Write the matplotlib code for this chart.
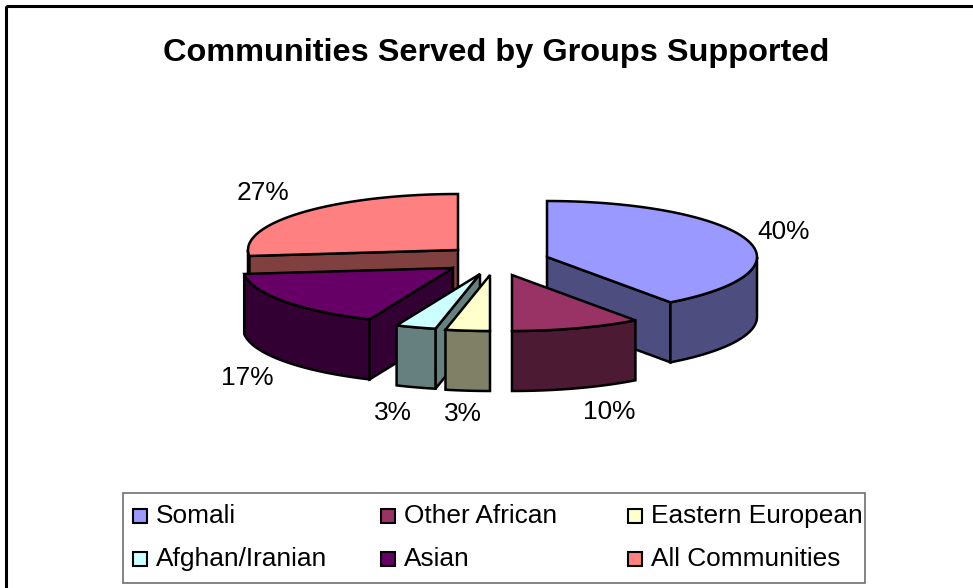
#!/usr/bin/env python3
"""Exploded 3-D style pie: communities served by groups supported."""
import numpy as np
import matplotlib
matplotlib.use("Agg")
import matplotlib.pyplot as plt
from matplotlib.patches import Polygon, Rectangle

plt.rcParams["font.family"] = ["Liberation Sans", "DejaVu Sans"]

categories = ["Somali", "Other African", "Eastern European",
              "Afghan/Iranian", "Asian", "All Communities"]
shares = [40.0, 10.0, 3.4, 3.1, 16.8, 26.7]

top_colors = ["#9999FF", "#993366", "#FFFFCC", "#CCFFFF", "#660066", "#FF8080"]
side_colors = ["#4D4D80", "#4D1A33", "#808066", "#668080", "#330033", "#804040"]

# layout, all in image pixels
W, H = 973, 588
RX, RY, DEPTH = 210, 56, 60
apex = [(547, 257), (512, 275), (490, 275), (480, 274), (453, 268), (458, 250)]
label_pos = [(784, 232), (609, 412), (463, 414), (393, 413), (247, 378), (263, 193)]
draw_order = [5, 0, 4, 3, 2, 1]
legend_box = (123, 493, 742, 90)
legend_swatch = [(133, 509), (381, 509), (628, 509), (133, 552), (381, 552), (628, 552)]

fig = plt.figure(figsize=(W / 100, H / 100), dpi=100)
ax = fig.add_axes([0, 0, 1, 1])
ax.set_xlim(0, W)
ax.set_ylim(H, 0)
ax.axis("off")

ax.add_patch(Rectangle((6, 6), W + 20, H + 20, fill=False, ec="black", lw=2.2))
ax.text(496, 53, "Communities Served by Groups Supported", ha="center", va="center",
        fontsize=23.4, fontweight="bold")


def rim(cx, cy, deg):
    t = np.radians(deg)
    return np.column_stack([cx + RX * np.sin(t), cy - RY * np.cos(t)])


def face(points, color, z):
    ax.add_patch(Polygon(points, closed=True, fc=color, ec="black", lw=1.8,
                         joinstyle="miter", zorder=z))


edges = np.concatenate([[0], np.cumsum(shares)]) * 360 / sum(shares)

for z, i in enumerate(draw_order):
    cx, cy = apex[i]
    start, end = edges[i], edges[i + 1]
    down = np.array([0, DEPTH])
    # side faces first, the top goes over them
    if 180 < start < 360:
        p = rim(cx, cy, [start])[0]
        face([(cx, cy), p, p + down, (cx, cy + DEPTH)], side_colors[i], z)
    if 0 < end < 180:
        p = rim(cx, cy, [end])[0]
        face([(cx, cy), p, p + down, (cx, cy + DEPTH)], side_colors[i], z)
    a0, a1 = max(start, 90), min(end, 270)
    if a1 > a0:
        arc = rim(cx, cy, np.linspace(a0, a1, 80))
        face(np.vstack([arc, arc[::-1] + down]), side_colors[i], z)
    arc = rim(cx, cy, np.linspace(start, end, 120))
    face(np.vstack([[(cx, cy)], arc]), top_colors[i], z)

for (x, y), v in zip(label_pos, shares):
    ax.text(x, y, f"{v:.0f}%", ha="center", va="center", fontsize=18.9, zorder=20)

x0, y0, w, h = legend_box
ax.add_patch(Rectangle((x0, y0), w, h, fc="white", ec="#707070", lw=1.2))
for (x, y), name, c in zip(legend_swatch, categories, top_colors):
    ax.add_patch(Rectangle((x, y), 14, 14, fc=c, ec="black", lw=1.5))
    ax.text(x + 23, y + 14, name, ha="left", va="baseline", fontsize=18.9)

fig.savefig("out.png", dpi=100)
